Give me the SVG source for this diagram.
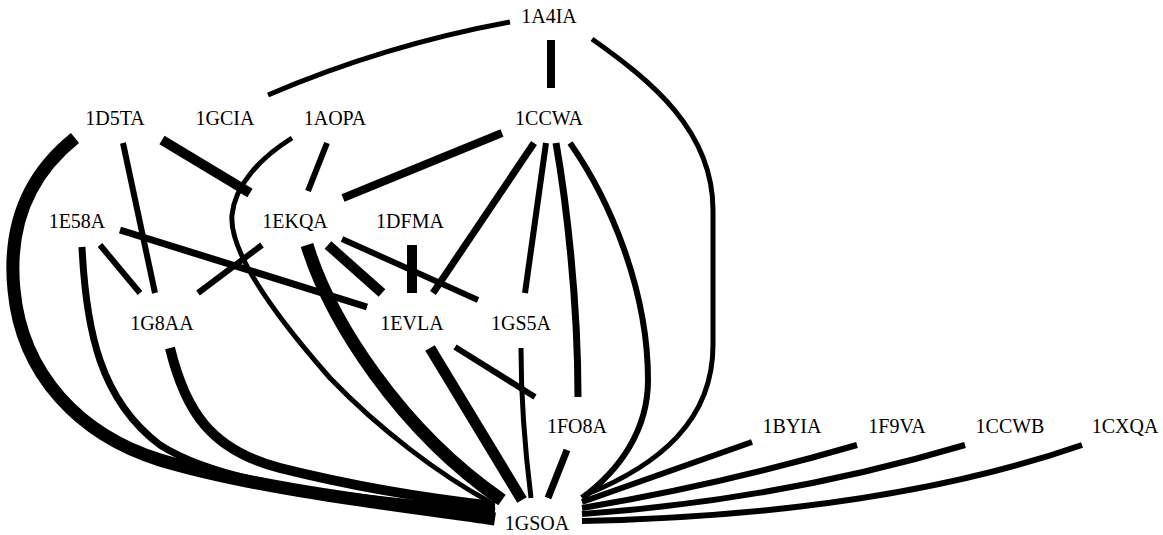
<svg xmlns="http://www.w3.org/2000/svg" width="1163" height="535" viewBox="0 0 1163 535">
<style>
.e{fill:none;stroke:#000;stroke-linecap:butt}
.n text{font-family:"Liberation Serif","Times New Roman",serif;font-size:20px;text-anchor:middle;fill:#000}
</style>
<rect width="1163" height="535" fill="#fff"/>
<g id="connectors">
<path class="e" stroke-width="5" d="M510,22 Q385,45 268,95"/>
<path class="e" stroke-width="8" d="M551,40 L551,88"/>
<path class="e" stroke-width="5" d="M592,39 C650,80 713,130 713,210 L713,345 C713,420 660,465 585,495"/>
<path class="e" stroke-width="13" d="M75,138 C25,178 8,230 14,290 C22,375 80,435 160,460 C260,490 400,505 495,519"/>
<path class="e" stroke-width="6" d="M123,143 L155,293"/>
<path class="e" stroke-width="10" d="M162,140 L250,193"/>
<path class="e" stroke-width="5" d="M292,138 C260,158 235,185 232,215 C229,250 270,310 330,378 C380,430 440,475 490,502"/>
<path class="e" stroke-width="6" d="M327,143 L308,191"/>
<path class="e" stroke-width="8" d="M502,133 L343,198"/>
<path class="e" stroke-width="7" d="M534,143 L433,293"/>
<path class="e" stroke-width="6" d="M546,143 L525,293"/>
<path class="e" stroke-width="7" d="M556,143 C566,200 578,300 578,397"/>
<path class="e" stroke-width="6" d="M570,143 C610,200 648,290 648,380 C648,430 620,470 582,498"/>
<path class="e" stroke-width="6" d="M100,245 L140,293"/>
<path class="e" stroke-width="7" d="M120,230 L367,307"/>
<path class="e" stroke-width="7" d="M82,247 C86,330 100,400 160,445 C230,490 380,500 495,511"/>
<path class="e" stroke-width="6" d="M262,245 L198,293"/>
<path class="e" stroke-width="13" d="M307,245 C330,320 400,430 502,500"/>
<path class="e" stroke-width="10" d="M328,245 L382,293"/>
<path class="e" stroke-width="6" d="M342,239 L478,300"/>
<path class="e" stroke-width="10" d="M412,245 L412,293"/>
<path class="e" stroke-width="11" d="M430,348 L522,500"/>
<path class="e" stroke-width="6" d="M455,347 L535,397"/>
<path class="e" stroke-width="5" d="M521,348 C521,400 525,450 531,498"/>
<path class="e" stroke-width="7" d="M567,450 L548,498"/>
<path class="e" stroke-width="10" d="M170,348 C185,410 210,450 280,468 C360,488 440,500 495,506"/>
<path class="e" stroke-width="6" d="M582,502 L752,442"/>
<path class="e" stroke-width="6" d="M582,508 Q720,485 857,445"/>
<path class="e" stroke-width="6" d="M582,514 Q780,500 965,445"/>
<path class="e" stroke-width="6" d="M582,521 Q880,515 1082,445"/>
</g>
<g id="n-1A4IA" class="n"><text x="549" y="23">1A4IA</text></g>
<g id="n-1D5TA" class="n"><text x="115" y="125">1D5TA</text></g>
<g id="n-1GCIA" class="n"><text x="225" y="125">1GCIA</text></g>
<g id="n-1AOPA" class="n"><text x="335" y="125">1AOPA</text></g>
<g id="n-1CCWA" class="n"><text x="549" y="125">1CCWA</text></g>
<g id="n-1E58A" class="n"><text x="77" y="228">1E58A</text></g>
<g id="n-1EKQA" class="n"><text x="295" y="228">1EKQA</text></g>
<g id="n-1DFMA" class="n"><text x="410" y="228">1DFMA</text></g>
<g id="n-1G8AA" class="n"><text x="162" y="330">1G8AA</text></g>
<g id="n-1EVLA" class="n"><text x="412" y="330">1EVLA</text></g>
<g id="n-1GS5A" class="n"><text x="521" y="330">1GS5A</text></g>
<g id="n-1FO8A" class="n"><text x="577" y="433">1FO8A</text></g>
<g id="n-1BYIA" class="n"><text x="792" y="433">1BYIA</text></g>
<g id="n-1F9VA" class="n"><text x="897" y="433">1F9VA</text></g>
<g id="n-1CCWB" class="n"><text x="1010" y="433">1CCWB</text></g>
<g id="n-1CXQA" class="n"><text x="1125" y="433">1CXQA</text></g>
<g id="n-1GSOA" class="n"><text x="537" y="530">1GSOA</text></g>
</svg>
